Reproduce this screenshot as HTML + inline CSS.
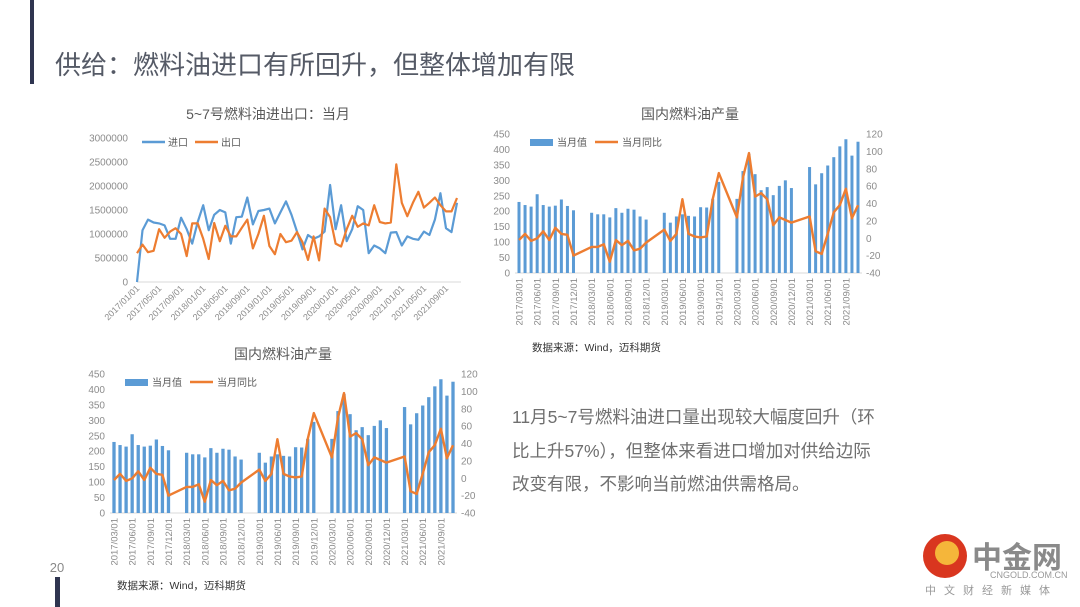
<!DOCTYPE html>
<html><head><meta charset="utf-8">
<style>
html,body{margin:0;padding:0;background:#fff;}
body{width:1080px;height:607px;overflow:hidden;position:relative;font-family:"Liberation Sans","Noto Sans CJK SC",sans-serif;}
svg{position:absolute;left:0;top:0;}
text{font-family:"Liberation Sans","Noto Sans CJK SC",sans-serif;}
</style></head>
<body>
<svg id="s" width="1080" height="607" viewBox="0 0 1080 607">
  <rect x="30" y="0" width="4" height="84" fill="#2f3550"/>
  <text x="55" y="74" font-size="26" fill="#555a66">供给：燃料油进口有所回升，但整体增加有限</text>
  <rect x="55" y="577" width="5" height="30" fill="#2f3550"/>
  <text x="57" y="572" font-size="13" fill="#888" text-anchor="middle">20</text>
  <g font-size="17.5" fill="#6f6f6f">
    <text x="512" y="423">11月5~7号燃料油进口量出现较大幅度回升（环</text>
    <text x="512" y="457">比上升57%），但整体来看进口增加对供给边际</text>
    <text x="512" y="490">改变有限，不影响当前燃油供需格局。</text>
  </g>
  <g>
    <circle cx="945" cy="556" r="22" fill="#d9361f"/>
    <circle cx="947" cy="553" r="12" fill="#f5b63a"/>
    <text x="972" y="568" font-size="30" fill="#8a8a8a" font-weight="bold">中金网</text>
    <text x="990" y="578" font-size="9" fill="#999">CNGOLD.COM.CN</text>
    <text x="925" y="594" font-size="11" fill="#999" letter-spacing="8">中文财经新媒体</text>
  </g>
</svg>
<script>
// ---------- Chart 1 data: 5~7号燃料油进出口 ----------
const c1Imports = [0,1080000,1300000,1240000,1220000,1180000,900000,900000,1340000,1100000,800000,1250000,1600000,1080000,1400000,1500000,1450000,800000,1350000,1360000,1760000,1200000,1480000,1500000,1530000,1220000,1450000,1680000,1400000,1050000,680000,980000,900000,950000,1050000,2020000,1100000,1600000,850000,1100000,1580000,1500000,600000,760000,700000,600000,1030000,1040000,760000,950000,900000,880000,1050000,980000,1300000,1850000,1120000,1040000,1650000];
const c1Exports = [600000,780000,620000,650000,1100000,920000,1050000,1120000,1000000,540000,1220000,1220000,900000,480000,1230000,850000,1170000,950000,950000,1130000,1300000,700000,1000000,1380000,750000,580000,1000000,830000,860000,1040000,830000,460000,950000,450000,1530000,1350000,800000,740000,1100000,1380000,1150000,1220000,1180000,1600000,1250000,1220000,1240000,2450000,1650000,1370000,1650000,1880000,1550000,1650000,1760000,1600000,1470000,1470000,1750000];
const c1YTicks = [0,500000,1000000,1500000,2000000,2500000,3000000];
const c1XLabels = ["2017/01/01","2017/05/01","2017/09/01","2018/01/01","2018/05/01","2018/09/01","2019/01/01","2019/05/01","2019/09/01","2020/01/01","2020/05/01","2020/09/01","2021/01/01","2021/05/01","2021/09/01"];
// ---------- Chart 2/3 data: 国内燃料油产量 (slots 2017/03..2021/11) ----------
const prodMonths = [];
for (let y=2017;y<=2021;y++){for(let m=1;m<=12;m++){if((y===2017&&m<3)||(y===2021&&m>11))continue;prodMonths.push(y+"/"+String(m).padStart(2,"0")+"/01");}}
const prodValues = [230,220,215,255,220,215,218,238,217,203, null,null,195,190,190,180,210,195,208,205,183,173, null,null,195,163,183,190,185,183,213,212,240,295, null,null,240,330,385,320,268,278,252,282,300,275, null,null,343,287,323,348,375,410,433,380,425];
const prodYoY = [-2,5,-3,0,8,-2,12,5,4,-20, null,null,-10,-10,-7,-27,-2,-8,-3,-14,-12,-5, null,null,10,-3,5,45,5,2,1,2,45,75, null,null,24,70,98,48,52,45,15,24,21,18, null,null,25,-15,-18,5,30,38,57,23,38];
const prodLeftTicks = [0,50,100,150,200,250,300,350,400,450];
const prodRightTicks = [-40,-20,0,20,40,60,80,100,120];

const NS="http://www.w3.org/2000/svg";
const svg=document.getElementById("s");
function mk(tag,attrs,parent){const e=document.createElementNS(NS,tag);for(const k in attrs)e.setAttribute(k,attrs[k]);(parent||svg).appendChild(e);return e;}
const BLUE="#5b9bd5", ORANGE="#ed7d31", GREY="#8c8c8c";

// ----- Chart 1 -----
(function(){
  const g=mk("g",{});
  
  
  const x0=137,x1=457,yB=282,yT=138,maxV=3000000,n=c1Imports.length;
  const xs=i=>x0+(x1-x0)*i/(n-1), ys=v=>yB-(yB-yT)*v/maxV;
  const t=mk("text",{x:268,y:119,"font-size":14,fill:"#595959","text-anchor":"middle"},g);t.textContent="5~7号燃料油进出口：当月";
  
  
  c1YTicks.forEach(v=>{const l=mk("text",{x:128,y:ys(v)+3.5,"font-size":10,fill:GREY,"text-anchor":"end"},g);l.textContent=v;
    
    });
  const ax=mk("line",{x1:x0,x2:x1+4,y1:yB,y2:yB,stroke:"#d9d9d9"},g);
  
  
  c1XLabels.forEach((s,k)=>{const x=xs(k*4);const l=mk("text",{x:0,y:0,"font-size":9,fill:GREY,"text-anchor":"end",transform:`translate(${x+3},${yB+7}) rotate(-45)`},g);l.textContent=s;
    
    });
  [[c1Imports,BLUE,"import-line"],[c1Exports,ORANGE,"export-line"]].forEach(([arr,c,nm])=>{
    const p=mk("polyline",{points:arr.map((v,i)=>xs(i).toFixed(1)+","+ys(v).toFixed(1)).join(" "),fill:"none",stroke:c,"stroke-width":2.2,"stroke-linejoin":"round"},g);
    
    
  });
  const lg=mk("g",{},g);
  
  
  mk("line",{x1:142,x2:165,y1:142,y2:142,stroke:BLUE,"stroke-width":2.5},lg);
  mk("text",{x:168,y:146,"font-size":10,fill:"#595959"},lg).textContent="进口";
  mk("line",{x1:195,x2:218,y1:142,y2:142,stroke:ORANGE,"stroke-width":2.5},lg);
  mk("text",{x:221,y:146,"font-size":10,fill:"#595959"},lg).textContent="出口";
})();

// ----- Production combo charts -----
function combo(cfg,name){
  const g=mk("g",{});
  
  
  const n=prodMonths.length;
  const xs=i=>cfg.x0+(cfg.x1-cfg.x0)*i/(n-1);
  const yl=v=>cfg.yB-(cfg.yB-cfg.yT)*v/450;
  const yr=v=>cfg.yB-(cfg.yB-cfg.yT)*(v+40)/160;
  const t=mk("text",{x:cfg.tx,y:cfg.ty,"font-size":14,fill:"#595959","text-anchor":"middle"},g);t.textContent="国内燃料油产量";
  
  
  prodLeftTicks.forEach(v=>{const l=mk("text",{x:cfg.lx,y:yl(v)+3.5,"font-size":10,fill:GREY,"text-anchor":"end"},g);l.textContent=v;
    
    });
  prodRightTicks.forEach(v=>{const l=mk("text",{x:cfg.rx,y:yr(v)+3.5,"font-size":10,fill:GREY},g);l.textContent=v;
    
    });
  const ax=mk("line",{x1:cfg.x0-4,x2:cfg.x1+4,y1:cfg.yB,y2:cfg.yB,stroke:"#d9d9d9"},g);
  
  
  prodValues.forEach((v,i)=>{if(v==null)return;
    const b=mk("rect",{x:xs(i)-cfg.bw/2,y:yl(v),width:cfg.bw,height:cfg.yB-yl(v),fill:BLUE},g);
    
    });
  const pts=[];prodYoY.forEach((v,i)=>{if(v!=null)pts.push(xs(i).toFixed(1)+","+yr(v).toFixed(1));});
  const p=mk("polyline",{points:pts.join(" "),fill:"none",stroke:ORANGE,"stroke-width":2.4,"stroke-linejoin":"round"},g);
  
  
  prodMonths.forEach((s,i)=>{if(i%3)return;const x=xs(i);
    const l=mk("text",{x:0,y:0,"font-size":9.5,fill:GREY,"text-anchor":"end",transform:`translate(${x+3.5},${cfg.yB+5}) rotate(-90)`},g);l.textContent=s;
    
    });
  const lg=mk("g",{},g);
  
  
  mk("rect",{x:cfg.lgx,y:cfg.lgy-3,width:23,height:7,fill:BLUE},lg);
  mk("text",{x:cfg.lgx+27,y:cfg.lgy+4,"font-size":10,fill:"#595959"},lg).textContent="当月值";
  mk("line",{x1:cfg.lgx+65,x2:cfg.lgx+88,y1:cfg.lgy,y2:cfg.lgy,stroke:ORANGE,"stroke-width":2.5},lg);
  mk("text",{x:cfg.lgx+92,y:cfg.lgy+4,"font-size":10,fill:"#595959"},lg).textContent="当月同比";
  const src=mk("text",{x:cfg.sx,y:cfg.sy,"font-size":10.5,fill:"#333"},g);src.textContent="数据来源：Wind，迈科期货";
  
  
}
combo({x0:519,x1:858,yB:273,yT:134,bw:3,lx:510,rx:866,tx:690,ty:119,lgx:530,lgy:142,sx:532,sy:351},"production-chart-top");
combo({x0:114,x1:453,yB:513,yT:374,bw:3.3,lx:105,rx:461,tx:283,ty:359,lgx:125,lgy:382,sx:117,sy:589},"production-chart-bottom");
</script>
</body></html>
